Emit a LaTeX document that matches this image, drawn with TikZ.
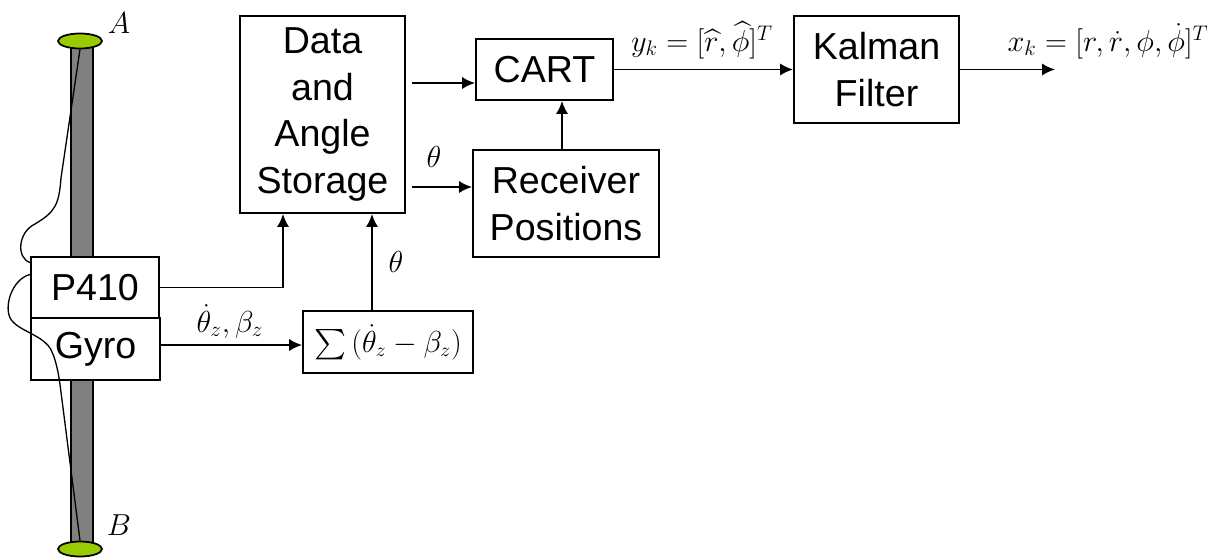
\documentclass[tikz,border=0pt]{standalone}
\usepackage{amsmath}
\usepackage{fontspec}
\newfontfamily\blockfont{Liberation Sans}
\usetikzlibrary{arrows.meta,shapes.geometric}
\definecolor{capgreen}{HTML}{99CC00}
\definecolor{polegray}{HTML}{808080}
\tikzstyle{sensordiagram}=[
    x=0.02cm, y=-0.02cm,
    >={Latex[length=7.4pt,width=7pt]},
    line width=1.1pt,
]
\tikzstyle{block}=[draw, fill=white, align=center, inner sep=0pt,
    font=\blockfont\fontsize{21.4}{26.4}\selectfont]
\tikzstyle{mathlabel}=[inner sep=0pt, font=\fontsize{17.5}{21}\selectfont]
\tikzstyle{endcap}=[ellipse, draw, fill=capgreen, line width=1pt,
    inner sep=0pt, minimum width=0.88cm, minimum height=0.3cm]
\tikzstyle{wire}=[line width=0.75pt]

\begin{document}
\begin{tikzpicture}[sensordiagram]
    \useasboundingbox (0,0) rectangle (1227,558);
    % pole with its two end caps
    \draw[fill=polegray, line width=0.9pt] (71,41) rectangle (93,549);
    \node[endcap] (topcap) at (80,41) {};
    \node[endcap] (botcap) at (80,549) {};
    \node[mathlabel] (A) at (119,23) {$A$};
    \node[mathlabel] (B) at (119,525) {$B$};

    \node[block, minimum width=2.56cm, minimum height=1.22cm] (p410) at (95,287.5) {P410};
    \node[block, minimum width=2.58cm, minimum height=1.24cm] (gyro) at (95.5,349) {Gyro};
    \node[block, minimum width=3.3cm, minimum height=3.94cm] (storage) at (322.5,114.5) {Data\\and\\Angle\\Storage};
    \node[block, minimum width=2.74cm, minimum height=1.22cm] (cart) at (544.5,69.5) {CART};
    \node[block, minimum width=3.72cm, minimum height=2.14cm] (receiver) at (566,203.5) {Receiver\\Positions};
    \node[block, minimum width=3.3cm, minimum height=2.14cm] (kalman) at (876.5,69.5) {Kalman\\Filter};
    \node[block, minimum width=3.4cm, minimum height=1.24cm, font=\fontsize{16}{19}\selectfont] (sum) at (388,342) {$\sum\,(\dot\theta_z-\beta_z)$};

    \coordinate (tocart) at (412,83);
    \coordinate (torecv) at (412,187);
    \coordinate (xout) at (1055,72);
    \draw[->] (tocart) -- (tocart -| cart.west);
    \draw[->] (torecv) -- (torecv -| receiver.west);
    \draw[->] ([xshift=-0.08cm]receiver.north) -- ([xshift=-0.08cm]receiver.north |- cart.south);
    \draw[->] (cart.east) -- (kalman.west);
    \draw[->] (kalman.east) -- (kalman.east -| xout);
    \draw[->] (p410.east) -| ([xshift=-0.79cm]storage.south);
    \draw[->] ([yshift=0.08cm]gyro.east) -- ([yshift=0.08cm]gyro.east -| sum.west);
    \draw[->] ([xshift=-0.32cm]sum.north) -- ([xshift=-0.32cm]sum.north |- storage.south);

    \node[mathlabel] (thetaA) at (434,157) {$\theta$};
    \node[mathlabel] (thetaB) at (396,262) {$\theta$};
    \node[mathlabel] (rates) at (230,321) {$\dot\theta_z,\beta_z$};
    \node[mathlabel] (ymeas) at (702,40) {$y_k=[\widehat r,\widehat\phi]^T$};
    \node[mathlabel] (xstate) at (1108,41) {$x_k=[r,\dot r,\phi,\dot\phi]^T$};

    % cables from the caps to the receiver
    \draw[wire] (topcap.south) -- (61,178) .. controls (59,205) and (55,212) .. (35,224)
        .. controls (18,232) and (16,258) .. ([yshift=0.5cm]p410.west);
    \draw[wire] ([yshift=0.26cm]p410.west) .. controls (15,278) and (5,300) .. (9,315)
        .. controls (13,330) and (40,333) .. (50,348)
        .. controls (58,362) and (60,385) .. (62,400) -- (botcap.north);
\end{tikzpicture}
\end{document}
